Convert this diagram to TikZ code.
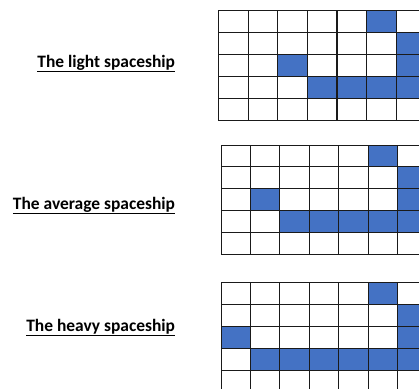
\documentclass[tikz,border=0pt]{standalone}
\usepackage{fontspec}
\setmainfont{Carlito}
\usetikzlibrary{positioning}
\definecolor{cblue}{HTML}{4472C4}
\definecolor{cline}{HTML}{1A1A1A}
\tikzset{
  every picture/.style={line width=0.9bp},
  cell/.style={draw=cline, fill=white, minimum width=29.5bp, minimum height=21.9bp, inner sep=0pt, outer sep=0pt},
  ship/.style={cell, fill=cblue},
  title/.style={font=\fontsize{17.5}{19}\selectfont\bfseries, anchor=base east, inner sep=0pt},
}
\begin{document}
\begin{tikzpicture}[x=1bp, y=-1bp]
  \useasboundingbox (0,0) rectangle (419,389);
  \clip (0,0) rectangle (419,389);
  % light spaceship
  \node[title] (tlight) at (175.5,67.3) {\underline{The light spaceship}};
  \foreach \r in {0,...,4} { \foreach \c in {0,...,6} {
    \node[cell] (a\r\c) at (233.3+29.6*\c, 21.7+21.9*\r) {};
  } }
  \foreach \r/\c in {0/5, 1/6, 2/2, 2/6, 3/3, 3/4, 3/5, 3/6} { \node[ship] (sa\r\c) at (a\r\c) {}; }
  % average spaceship
  \node[title] (taverage) at (175.5,209.3) {\underline{The average spaceship}};
  \foreach \r in {0,...,4} { \foreach \c in {0,...,6} {
    \node[cell] (b\r\c) at (235.7+29.4*\c, 155.9+21.8*\r) {};
  } }
  \foreach \r/\c in {0/5, 1/6, 2/1, 2/6, 3/2, 3/3, 3/4, 3/5, 3/6} { \node[ship] (sb\r\c) at (b\r\c) {}; }
  % heavy spaceship
  \node[title] (theavy) at (175.5,331.3) {\underline{The heavy spaceship}};
  \foreach \r in {0,...,4} { \foreach \c in {0,...,6} {
    \node[cell] (c\r\c) at (235.7+29.4*\c, 293.3+21.9*\r) {};
  } }
  \foreach \r/\c in {0/5, 1/6, 2/0, 2/6, 3/1, 3/2, 3/3, 3/4, 3/5, 3/6} { \node[ship] (sc\r\c) at (c\r\c) {}; }
\end{tikzpicture}
\end{document}
